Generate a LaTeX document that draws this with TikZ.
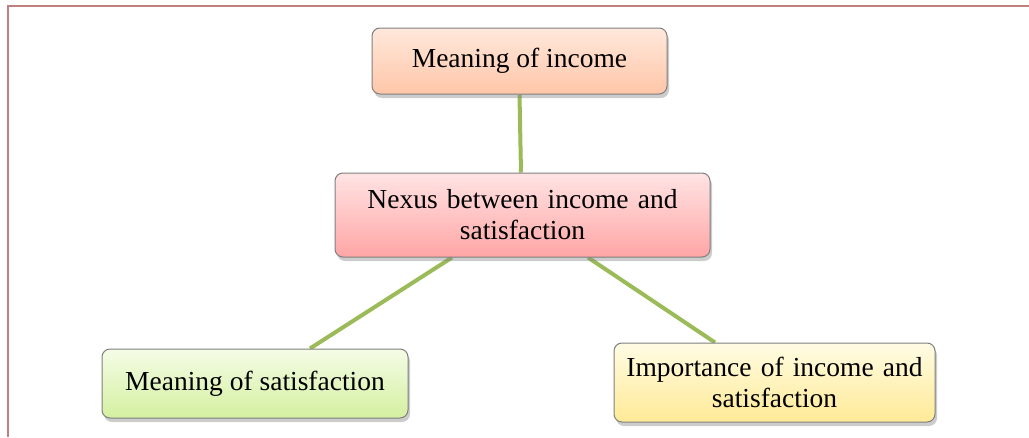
\documentclass[tikz,border=0pt]{standalone}
\usepackage{fontspec}
\setmainfont{Liberation Serif}
\usetikzlibrary{shadows,calc,backgrounds}
\definecolor{frame}{HTML}{C0807F}
\definecolor{link}{HTML}{9BBB59}
\definecolor{edge}{HTML}{7F7F7F}
\tikzset{
  box/.style={draw=edge, line width=1pt, rounded corners=8pt, align=center,
    font=\fontsize{27.5}{31}\selectfont, inner sep=0pt,
    drop shadow={shadow xshift=2pt, shadow yshift=-4pt, fill=black!50, opacity=0.4}},
  conn/.style={draw=link, line width=4pt}
}
\begin{document}
\begin{tikzpicture}[x=1pt,y=-1pt]
\useasboundingbox (0,0) rectangle (1029,437);
\draw[frame, line width=2.5pt] (8,437) -- (8,6) -- (1029,6);
\node[box, top color={rgb,255:red,255;green,232;blue,220}, bottom color={rgb,255:red,255;green,198;blue,168},
  minimum width=295pt, minimum height=66pt] (inc) at (519.5,61) {Meaning of income};
\node[box, top color={rgb,255:red,255;green,228;blue,228}, bottom color={rgb,255:red,255;green,165;blue,165},
  minimum width=375pt, minimum height=84pt, text width=370pt] (nex) at (522.5,215) {Nexus between income and\\satisfaction};
\node[box, top color={rgb,255:red,245;green,252;blue,230}, bottom color={rgb,255:red,212;green,240;blue,160},
  minimum width=306pt, minimum height=69pt] (sat) at (255,383.5) {Meaning of satisfaction};
\node[box, top color={rgb,255:red,255;green,252;blue,228}, bottom color={rgb,255:red,255;green,234;blue,150},
  minimum width=321pt, minimum height=79pt, text width=320pt] (imp) at (774.5,382.5) {Importance of income and\\satisfaction};
\begin{scope}[on background layer]
\draw[conn] (inc.south) -- ($(nex.north)+(-1.5,0)$);
\draw[conn] ($(nex.south)+(-70.5,0)$) -- ($(sat.north)+(55,0)$);
\draw[conn] ($(nex.south)+(65.5,0)$) -- ($(imp.north)+(-59.5,0)$);
\end{scope}
\end{tikzpicture}
\end{document}
